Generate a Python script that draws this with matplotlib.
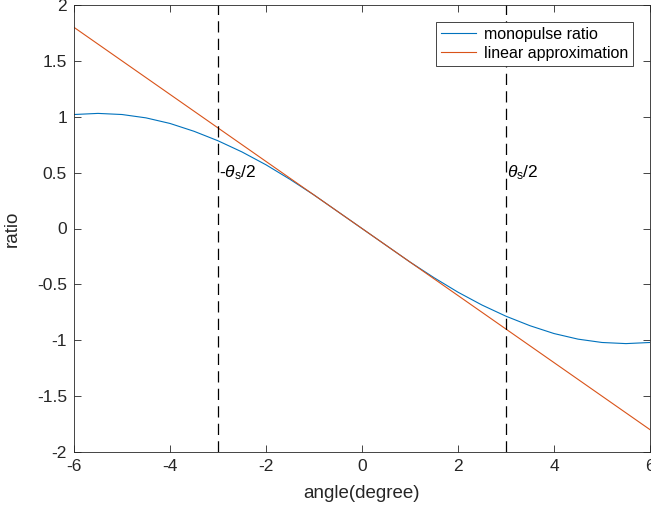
import matplotlib
matplotlib.use("Agg")
import matplotlib.pyplot as plt

# monopulse ratio vs angle, read at 0.5 degree steps
angle = [-6.0, -5.5, -5.0, -4.5, -4.0, -3.5, -3.0, -2.5, -2.0, -1.5, -1.0, -0.5, 0.0,
         0.5, 1.0, 1.5, 2.0, 2.5, 3.0, 3.5, 4.0, 4.5, 5.0, 5.5, 6.0]
ratio = [1.02, 1.03, 1.02, 0.99, 0.94, 0.87, 0.785, 0.685, 0.57, 0.44, 0.30, 0.15, 0.0,
         -0.15, -0.30, -0.44, -0.57, -0.685, -0.785, -0.87, -0.94, -0.99, -1.02, -1.03, -1.02]

# linear approximation end points
lin_angle = [-6.0, 6.0]
lin_ratio = [1.8, -1.8]

# half squint angle markers
squint_half = [-3.0, 3.0]
squint_labels = [r'-$\theta_{\rm s}$/2', r'$\theta_{\rm s}$/2']

xticks = [-6, -4, -2, 0, 2, 4, 6]
yticks = [-2, -1.5, -1, -0.5, 0, 0.5, 1, 1.5, 2]

plt.rcParams['font.family'] = ['Liberation Sans', 'DejaVu Sans']
plt.rcParams['mathtext.fontset'] = 'custom'
plt.rcParams['mathtext.rm'] = 'Liberation Sans'
plt.rcParams['mathtext.it'] = 'Liberation Sans:italic'

axcol = '#262626'
fig = plt.figure(figsize=(6.51, 5.15), dpi=100)
ax = fig.add_axes([74 / 651, 63 / 515, 576 / 651, 447 / 515])

ax.plot(angle, ratio, color='#0072BD', lw=0.8, label='monopulse ratio')
ax.plot(lin_angle, lin_ratio, color='#D95319', lw=0.8, label='linear approximation')

for xs, lab in zip(squint_half, squint_labels):
    ax.plot([xs, xs], [-2, 2], color='k', lw=0.9, ls='--', dashes=(9, 5))
    ax.annotate(lab, (xs, 0.5), xytext=(1.0, 0), textcoords='offset points',
                ha='left', va='center', fontsize=12.5, color='k')

ax.set_xlim(-6, 6)
ax.set_ylim(-2, 2)
ax.set_xticks(xticks)
ax.set_yticks(yticks)
ax.set_xticklabels([str(t) for t in xticks])
ax.set_yticklabels(['%g' % t for t in yticks])
ax.tick_params(direction='in', top=True, right=True, length=5, width=0.6,
               colors=axcol, labelsize=12.5, pad=5)
for s in ax.spines.values():
    s.set_color(axcol)
    s.set_linewidth(0.6)

ax.set_xlabel('angle(degree)', fontsize=13.5, color=axcol, labelpad=8)
ax.set_ylabel('ratio', fontsize=13.5, color=axcol, labelpad=12)

leg = ax.legend(loc='upper right', fontsize=11.5, fancybox=False, framealpha=1,
                edgecolor=axcol, handlelength=2.2, handletextpad=0.5, borderpad=0.3,
                labelspacing=0.25, bbox_to_anchor=(0.984, 0.98))
leg.get_frame().set_linewidth(0.6)

fig.savefig('out.png', dpi=100)
